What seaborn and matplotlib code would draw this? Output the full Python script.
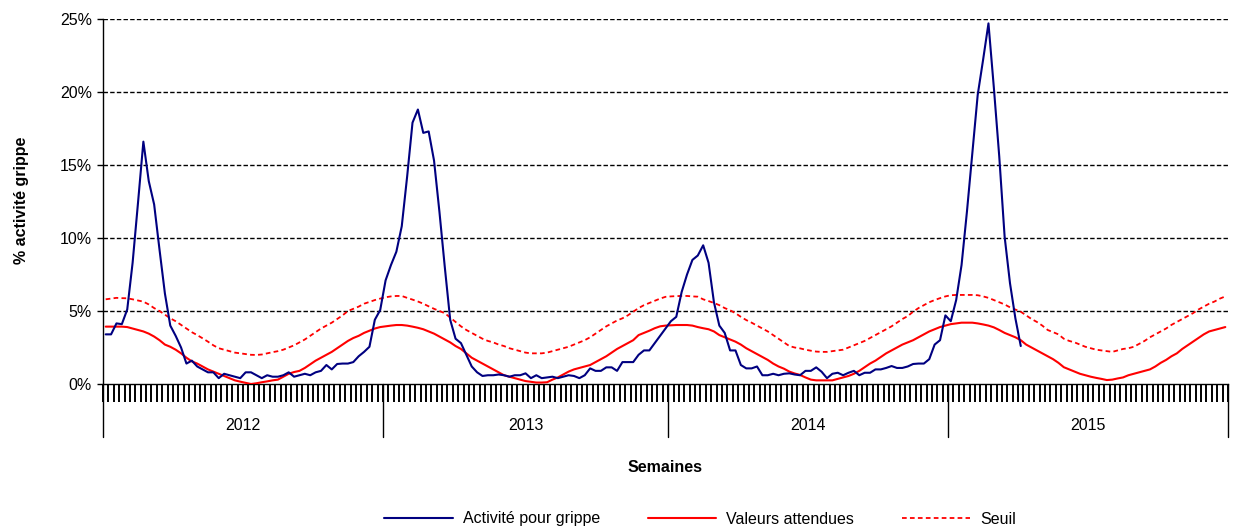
import matplotlib
matplotlib.use("Agg")
import matplotlib.pyplot as plt
import matplotlib.transforms as mtransforms
import numpy as np
import pandas as pd
import seaborn as sns

# ---------------- data ----------------
years = ["2012", "2013", "2014", "2015"]
weeks_per_year = [52, 53, 52, 52]

activite = [
    3.4, 3.4, 4.15, 4.1, 5.1, 8.3, 12.4, 16.6, 13.9, 12.3,
    9.2, 6.2, 4.0, 3.3, 2.5, 1.4, 1.6, 1.2, 1.0, 0.8,
    0.8, 0.4, 0.7, 0.6, 0.5, 0.4, 0.8, 0.8, 0.6, 0.4,
    0.6, 0.5, 0.5, 0.6, 0.8, 0.5, 0.6, 0.7, 0.6, 0.8,
    0.9, 1.3, 1.0, 1.37, 1.4, 1.4, 1.5, 1.9, 2.2, 2.55,
    4.4, 5.07, 7.1, 8.15, 9.06, 10.8, 14.2, 17.9, 18.8, 17.2,
    17.3, 15.3, 11.8, 8.0, 4.4, 3.1, 2.8, 2.0, 1.2, 0.8,
    0.55, 0.6, 0.6, 0.65, 0.6, 0.5, 0.6, 0.6, 0.73, 0.4,
    0.6, 0.4, 0.45, 0.5, 0.4, 0.5, 0.6, 0.55, 0.4, 0.6,
    1.07, 0.9, 0.9, 1.14, 1.14, 0.9, 1.5, 1.5, 1.5, 2.0,
    2.3, 2.3, 2.8, 3.3, 3.8, 4.3, 4.6, 6.3, 7.5, 8.5,
    8.8, 9.5, 8.3, 5.6, 4.0, 3.5, 2.3, 2.3, 1.3, 1.07,
    1.07, 1.2, 0.6, 0.6, 0.7, 0.6, 0.7, 0.73, 0.65, 0.6,
    0.9, 0.9, 1.14, 0.84, 0.4, 0.7, 0.77, 0.6, 0.77, 0.9,
    0.6, 0.77, 0.77, 1.0, 1.0, 1.1, 1.23, 1.1, 1.1, 1.2,
    1.37, 1.4, 1.4, 1.7, 2.7, 3.0, 4.7, 4.3, 5.75, 8.15,
    11.8, 15.8, 19.8, 22.2, 24.7, 20.3, 15.6, 10.1, 6.9, 4.5,
    2.6,
]

attendues = [
    3.93, 3.93, 3.93, 3.93, 3.9, 3.8, 3.7, 3.6, 3.45, 3.25,
    3.0, 2.7, 2.55, 2.35, 2.1, 1.8, 1.55, 1.4, 1.2, 1.0,
    0.85, 0.7, 0.55, 0.4, 0.25, 0.16, 0.08, 0.0, 0.05, 0.12,
    0.18, 0.25, 0.3, 0.5, 0.7, 0.82, 0.9, 1.1, 1.35, 1.6,
    1.8, 2.0, 2.2, 2.45, 2.7, 2.95, 3.15, 3.3, 3.5, 3.65,
    3.8, 3.9, 3.95, 4.0, 4.04, 4.04, 4.0, 3.93, 3.85, 3.75,
    3.6, 3.45, 3.25, 3.05, 2.85, 2.6, 2.4, 2.1, 1.8, 1.6,
    1.4, 1.2, 1.0, 0.8, 0.6, 0.5, 0.4, 0.3, 0.2, 0.15,
    0.1, 0.1, 0.12, 0.3, 0.45, 0.65, 0.85, 1.0, 1.1, 1.2,
    1.3, 1.5, 1.7, 1.9, 2.15, 2.4, 2.6, 2.8, 3.0, 3.35,
    3.5, 3.65, 3.82, 3.95, 4.0, 4.02, 4.04, 4.04, 4.04, 4.0,
    3.9, 3.82, 3.75, 3.6, 3.35, 3.2, 3.05, 2.9, 2.7, 2.45,
    2.25, 2.05, 1.85, 1.65, 1.4, 1.2, 1.05, 0.85, 0.72, 0.62,
    0.45, 0.3, 0.25, 0.25, 0.25, 0.25, 0.35, 0.45, 0.55, 0.7,
    0.9, 1.15, 1.4, 1.6, 1.85, 2.1, 2.3, 2.5, 2.7, 2.85,
    3.0, 3.2, 3.4, 3.6, 3.75, 3.9, 4.0, 4.1, 4.15, 4.2,
    4.2, 4.2, 4.15, 4.08, 4.0, 3.88, 3.7, 3.5, 3.35, 3.2,
    3.0, 2.7, 2.5, 2.3, 2.1, 1.9, 1.7, 1.45, 1.15, 1.0,
    0.85, 0.7, 0.6, 0.5, 0.42, 0.35, 0.27, 0.3, 0.38, 0.45,
    0.6, 0.7, 0.8, 0.9, 1.0, 1.2, 1.45, 1.65, 1.9, 2.1,
    2.4, 2.65, 2.9, 3.15, 3.4, 3.6, 3.7, 3.8, 3.9,
]

seuil = [
    5.8, 5.85, 5.9, 5.88, 5.87, 5.8, 5.72, 5.64, 5.45, 5.2,
    5.0, 4.75, 4.5, 4.3, 4.05, 3.8, 3.55, 3.35, 3.13, 2.9,
    2.65, 2.45, 2.35, 2.25, 2.15, 2.1, 2.05, 2.0, 1.99, 2.02,
    2.1, 2.18, 2.25, 2.35, 2.5, 2.65, 2.85, 3.05, 3.3, 3.55,
    3.8, 4.0, 4.2, 4.45, 4.7, 5.0, 5.15, 5.3, 5.5, 5.62,
    5.75, 5.85, 5.94, 6.0, 6.03, 6.03, 5.9, 5.78, 5.65, 5.5,
    5.32, 5.15, 5.0, 4.85, 4.55, 4.25, 3.95, 3.7, 3.5, 3.3,
    3.1, 2.95, 2.85, 2.7, 2.6, 2.45, 2.35, 2.25, 2.15, 2.1,
    2.1, 2.1, 2.15, 2.25, 2.35, 2.45, 2.55, 2.7, 2.85, 3.0,
    3.2, 3.45, 3.7, 3.95, 4.15, 4.35, 4.5, 4.7, 4.95, 5.2,
    5.4, 5.55, 5.7, 5.85, 5.97, 6.0, 6.02, 6.03, 6.03, 6.0,
    5.98, 5.8, 5.68, 5.55, 5.4, 5.2, 5.05, 4.85, 4.6, 4.38,
    4.2, 4.0, 3.8, 3.6, 3.35, 3.1, 2.85, 2.6, 2.5, 2.44,
    2.35, 2.28, 2.22, 2.2, 2.2, 2.25, 2.3, 2.35, 2.5, 2.65,
    2.8, 2.95, 3.15, 3.35, 3.55, 3.75, 3.95, 4.2, 4.45, 4.65,
    4.95, 5.2, 5.4, 5.6, 5.75, 5.88, 6.0, 6.08, 6.1, 6.1,
    6.1, 6.1, 6.08, 6.0, 5.9, 5.75, 5.6, 5.45, 5.25, 5.1,
    4.95, 4.7, 4.45, 4.25, 4.0, 3.7, 3.55, 3.4, 3.1, 2.95,
    2.85, 2.7, 2.55, 2.45, 2.35, 2.3, 2.25, 2.2, 2.3, 2.4,
    2.45, 2.55, 2.75, 2.95, 3.2, 3.4, 3.6, 3.8, 4.05, 4.25,
    4.45, 4.65, 4.85, 5.1, 5.3, 5.5, 5.65, 5.85, 6.0,
]

y_ticks = [0, 5, 10, 15, 20, 25]

# ---------------- figure ----------------
sns.set_style("white")
plt.rcParams["font.family"] = ["Liberation Sans", "DejaVu Sans"]
plt.rcParams.update({
    "text.color": "black",
    "axes.labelcolor": "black",
    "xtick.color": "black",
    "ytick.color": "black",
    "xtick.bottom": True,
    "ytick.left": True,
})

n_weeks = sum(weeks_per_year)
week_idx = np.arange(n_weeks)

df_act = pd.DataFrame({"semaine": week_idx[:len(activite)], "val": activite})
df_att = pd.DataFrame({"semaine": week_idx[:len(attendues)], "val": attendues})
df_seu = pd.DataFrame({"semaine": week_idx[:len(seuil)], "val": seuil})

fig = plt.figure(figsize=(12.4, 5.3), dpi=100)
ax = fig.add_axes([103 / 1240, 1 - 384 / 530, (1228 - 103) / 1240, (384 - 19) / 530])

# grid first (behind)
for yt in y_ticks[1:]:
    ax.axhline(yt, color="black", lw=1.0, linestyle=(0, (3.2, 1.6)), zorder=0)

sns.lineplot(data=df_seu, x="semaine", y="val", ax=ax, color="#FF0000",
             lw=1.3, linestyle=(0, (2.6, 1.8)), label="Seuil", zorder=2)
sns.lineplot(data=df_att, x="semaine", y="val", ax=ax, color="#FF0000",
             lw=1.5, label="Valeurs attendues", zorder=3)
sns.lineplot(data=df_act, x="semaine", y="val", ax=ax, color="#000080",
             lw=1.5, label="Activité pour grippe", zorder=4)

ax.set_xlim(-0.5, n_weeks - 0.5)
ax.set_ylim(0, 25)
ax.set_yticks(y_ticks)
ax.set_yticklabels([f"{v}%" for v in y_ticks], fontsize=11.5)
ax.tick_params(axis="y", which="major", direction="out", length=4, width=1,
               color="black", pad=4, left=True)

# weekly tick marks at category boundaries
bounds = np.arange(n_weeks + 1) - 0.5
ax.set_xticks(bounds)
ax.set_xticklabels([])
ax.tick_params(axis="x", which="major", direction="out", length=13, width=1.4,
               color="black", bottom=True)

for side in ["top", "right"]:
    ax.spines[side].set_visible(False)
for side in ["left", "bottom"]:
    ax.spines[side].set_color("black")
    ax.spines[side].set_linewidth(1.0)

ax.set_xlabel("")
ax.set_ylabel("")

# year groups below the axis
trans = mtransforms.blended_transform_factory(ax.transData, ax.transAxes)
edges = np.concatenate([[0], np.cumsum(weeks_per_year)]) - 0.5
for e in edges:
    ax.plot([e, e], [0, -53 / 365], transform=trans, color="black", lw=1.0,
            clip_on=False)
for k, yr in enumerate(years):
    ax.text((edges[k] + edges[k + 1]) / 2, -41 / 365, yr, transform=trans,
            ha="center", va="center", fontsize=11.5)

fig.text(665 / 1240, 1 - 467 / 530, "Semaines", ha="center", va="center",
         fontsize=11.5, fontweight="bold")
fig.text(22 / 1240, 1 - 200 / 530, "% activité grippe", ha="center",
         va="center", rotation=90, fontsize=11.5, fontweight="bold")

# legend
handles, labels = ax.get_legend_handles_labels()
order = [labels.index("Activité pour grippe"), labels.index("Valeurs attendues"),
         labels.index("Seuil")]
ax.legend_.remove()
fig.legend([handles[i] for i in order], [labels[i] for i in order],
           loc="center", bbox_to_anchor=(700 / 1240, 1 - 519 / 530), ncol=3,
           frameon=False, fontsize=11.5, handlelength=4.3, columnspacing=3.0,
           handletextpad=0.6)

fig.savefig("out.png", dpi=100)
